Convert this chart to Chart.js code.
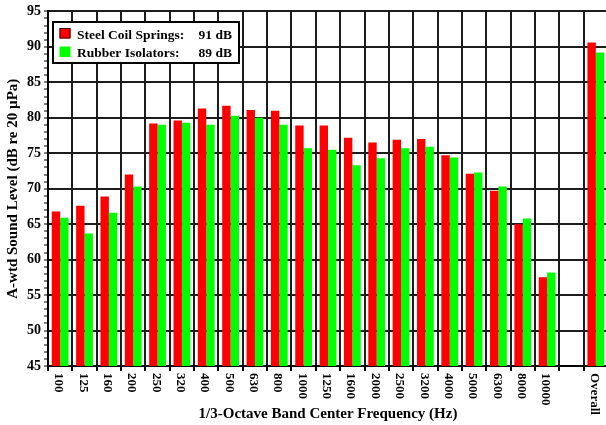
<!DOCTYPE html>
<html>
<head>
<meta charset="utf-8">
<script src="https://cdn.jsdelivr.net/npm/chart.js@4.4.1/dist/chart.umd.min.js"></script>
<style>
  html, body { margin: 0; padding: 0; background: #fff; overflow: hidden; }
  #wrap { width: 606px; height: 425px; overflow: hidden; }
</style>
</head>
<body>
<div id="wrap"><canvas id="myChart" width="612" height="425"></canvas></div>
<script>
// dati del grafico
const bands = ['100', '125', '160', '200', '250', '320', '400', '500', '630', '800', '1000',
  '1250', '1600', '2000', '2500', '3200', '4000', '5000', '6300', '8000', '10000', '', 'Overall'];

const steel = [66.8, 67.6, 68.9, 72.0, 79.2, 79.6, 81.3, 81.7, 81.1, 81.0, 78.9,
  78.9, 77.2, 76.5, 76.9, 77.0, 74.7, 72.1, 69.7, 65.0, 57.5, null, 90.6];
const rubber = [65.9, 63.7, 66.6, 70.3, 79.0, 79.3, 79.0, 80.3, 80.0, 79.0, 75.7,
  75.5, 73.3, 74.3, 75.7, 75.9, 74.4, 72.3, 70.3, 65.8, 58.2, null, 89.2];

const seriesNames = ['Steel Coil Springs:', 'Rubber Isolators:'];
const seriesTotals = ['91 dB', '89 dB'];

const serif = "'Liberation Serif', 'DejaVu Serif', serif";
const gridColor = '#1c1c1c';

// etichette x ruotate in senso orario (dall'alto in basso)
const xLabelsPlugin = {
  id: 'xLabels',
  afterDraw(chart) {
    const ctx = chart.ctx;
    const xs = chart.scales.x;
    const bottom = chart.chartArea.bottom;
    ctx.save();
    ctx.font = 'bold 13px ' + serif;
    ctx.fillStyle = '#000';
    ctx.textAlign = 'left';
    ctx.textBaseline = 'middle';
    for (let i = 0; i < bands.length; i++) {
      ctx.save();
      ctx.translate(xs.getPixelForValue(i) - 1.5, bottom + 7);
      ctx.rotate(Math.PI / 2);
      ctx.fillText(bands[i], 0, 0);
      ctx.restore();
    }
    ctx.restore();
  }
};

// legenda con riquadro
const boxLegendPlugin = {
  id: 'boxLegend',
  afterDraw(chart) {
    const ctx = chart.ctx;
    ctx.save();
    ctx.fillStyle = '#fff';
    ctx.fillRect(53, 22, 186, 41);
    ctx.strokeStyle = '#000';
    ctx.lineWidth = 2;
    ctx.strokeRect(53, 22, 186, 41);
    ctx.font = 'bold 13.5px ' + serif;
    ctx.textBaseline = 'alphabetic';
    chart.data.datasets.forEach((ds, i) => {
      const y = 28 + i * 18.5;
      ctx.fillStyle = ds.backgroundColor;
      ctx.fillRect(59.5, y, 11, 10.5);
      if (i === 0) {
        ctx.lineWidth = 1;
        ctx.strokeStyle = '#400';
        ctx.strokeRect(60, y + 0.5, 10, 9.5);
      }
      ctx.fillStyle = '#000';
      ctx.textAlign = 'left';
      ctx.fillText(seriesNames[i], 77, y + 10.5);
      ctx.textAlign = 'right';
      ctx.fillText(seriesTotals[i], 232, y + 10.5);
    });
    ctx.restore();
  }
};

const data = {
  labels: bands,
  datasets: [{
    label: seriesNames[0],
    backgroundColor: '#ff0000',
    borderWidth: 0,
    data: steel,
  }, {
    label: seriesNames[1],
    backgroundColor: '#00ff00',
    borderWidth: 0,
    data: rubber,
  }]
};

const config = {
  type: 'bar',
  data: data,
  options: {
    responsive: false,
    animation: false,
    devicePixelRatio: 1,
    layout: { padding: { top: 11, right: 4, bottom: 0, left: 0 } },
    datasets: {
      bar: { categoryPercentage: 0.69, barPercentage: 1.0 }
    },
    plugins: {
      legend: { display: false },
      tooltip: { enabled: false }
    },
    scales: {
      x: {
        afterFit: (scale) => { scale.height = 59; },
        grid: { color: gridColor, lineWidth: 2, tickLength: 5, tickColor: '#000' },
        border: { color: '#000', width: 2 },
        ticks: { display: false },
        title: {
          display: true,
          text: '1/3-Octave Band Center Frequency (Hz)',
          color: '#000',
          font: { family: serif, size: 15, weight: 'bold' },
          padding: { top: 0, bottom: 2 }
        }
      },
      y: {
        min: 45,
        max: 95,
        afterFit: (scale) => { scale.width = 48; },
        grid: {
          color: (c) => (c.tick && c.tick.value % 5 === 0) ? gridColor : 'rgba(0,0,0,0)',
          lineWidth: 2,
          tickLength: 4,
          tickColor: '#000',
          tickWidth: 1
        },
        border: { color: '#000', width: 2 },
        ticks: {
          stepSize: 1,
          autoSkip: false,
          padding: 3,
          color: '#000',
          font: { family: serif, size: 14, weight: 'bold' },
          callback: (v) => (v % 5 === 0 ? v : '')
        },
        title: {
          display: true,
          text: 'A-wtd Sound Level (dB re 20 \u00b5Pa)',
          color: '#000',
          font: { family: serif, size: 15, weight: 'bold' },
          padding: { top: 4, bottom: 0 }
        }
      }
    }
  },
  plugins: [xLabelsPlugin, boxLegendPlugin]
};

const myChart = new Chart(document.getElementById('myChart'), config);
</script>
</body>
</html>
